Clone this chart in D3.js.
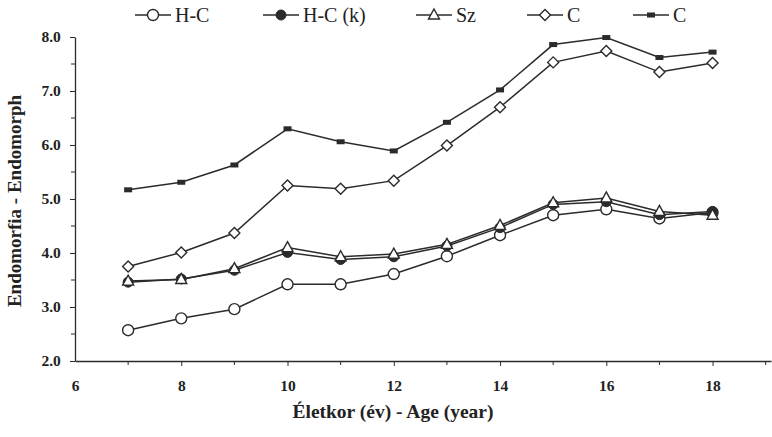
<!DOCTYPE html>
<html><head><meta charset="utf-8">
<script src="https://cdn.jsdelivr.net/npm/d3@7"></script>
<style>body{margin:0;background:#fff}svg{display:block}</style>
</head><body><svg id="c" width="772" height="437"></svg>
<script>
const ages = [7,8,9,10,11,12,13,14,15,16,17,18];
const hc   = [2.57,2.79,2.96,3.42,3.42,3.61,3.94,4.33,4.70,4.81,4.64,4.75];
const hck  = [3.46,3.52,3.68,4.01,3.88,3.93,4.13,4.47,4.90,4.95,4.71,4.77];
const sz   = [3.48,3.51,3.71,4.10,3.93,3.98,4.16,4.51,4.93,5.02,4.77,4.70];
const cDia = [3.75,4.01,4.37,5.25,5.19,5.34,5.99,6.70,7.53,7.74,7.35,7.52];
const cSq  = [5.17,5.31,5.63,6.30,6.06,5.89,6.42,7.02,7.86,7.99,7.62,7.72];
const xTicks = [6,8,10,12,14,16,18];
const yTicks = [2,3,4,5,6,7,8];
const seriesNames = ["H-C","H-C (k)","Sz","C","C"];
const seriesVals = [hc,hck,sz,cDia,cSq];
const markers = ["circleOpen","circleFilled","triangle","diamond","square"];

const svg = d3.select("#c");
const col = "#2b2b2b";
const x = d3.scaleLinear().domain([6,19.1]).range([75,771]);
const y = d3.scaleLinear().domain([2,8]).range([361,37]);

// axes
const xAxis = d3.axisBottom(x).tickValues(xTicks).tickFormat(d3.format("d")).tickSize(5).tickSizeOuter(0);
const gx = svg.append("g").attr("transform","translate(0,361)").call(xAxis);
gx.selectAll(".tick").filter(d=>d===6).select("line").remove();
svg.append("g").attr("transform","translate(0,361)")
  .selectAll("line").data([7,9,11,13,15,17,19]).join("line")
  .attr("x1",d=>x(d)).attr("x2",d=>x(d)).attr("y1",0).attr("y2",4).attr("stroke",col);
const yAxis = d3.axisLeft(y).tickValues(yTicks).tickFormat(d3.format(".1f")).tickSize(5).tickSizeOuter(0);
const gy = svg.append("g").attr("transform","translate(75,0)").call(yAxis);
svg.append("g").attr("transform","translate(75,0)")
  .selectAll("line").data([2.5,3.5,4.5,5.5,6.5,7.5]).join("line")
  .attr("x1",-4).attr("x2",0).attr("y1",d=>y(d)).attr("y2",d=>y(d)).attr("stroke",col);
[gx,gy].forEach(g=>{
  g.select(".domain").attr("stroke",col).attr("stroke-width",1.3);
  g.selectAll(".tick line").attr("stroke",col);
  g.selectAll("text").attr("font-family","Liberation Serif").attr("font-size",15.5)
    .attr("font-weight","bold").attr("fill","#222");
});
gx.selectAll("text").attr("dy","1.45em");
gy.selectAll("text").attr("dx","-0.4em");

// axis titles
svg.append("text").attr("x",393).attr("y",418).attr("text-anchor","middle")
  .attr("font-family","Liberation Serif").attr("font-weight","bold").attr("font-size",19.5)
  .attr("fill","#222").text("Életkor (év) - Age (year)");
svg.append("text").attr("transform","translate(21,201) rotate(-90)").attr("text-anchor","middle")
  .attr("font-family","Liberation Serif").attr("font-weight","bold").attr("font-size",19)
  .attr("fill","#222").text("Endomorfia - Endomorph");

function drawMarker(g, type, cx, cy){
  if(type==="circleOpen") g.append("circle").attr("cx",cx).attr("cy",cy).attr("r",5.5).attr("fill","#fff").attr("stroke",col).attr("stroke-width",1.4);
  else if(type==="circleFilled") g.append("circle").attr("cx",cx).attr("cy",cy).attr("r",5).attr("fill",col).attr("stroke",col);
  else if(type==="triangle") g.append("path").attr("d",`M${cx},${cy-6}L${cx+5.5},${cy+4}L${cx-5.5},${cy+4}Z`).attr("fill","#fff").attr("stroke",col).attr("stroke-width",1.4);
  else if(type==="diamond") g.append("path").attr("d",`M${cx},${cy-5.5}L${cx+5.5},${cy}L${cx},${cy+5.5}L${cx-5.5},${cy}Z`).attr("fill","#fff").attr("stroke",col).attr("stroke-width",1.4);
  else if(type==="square") g.append("rect").attr("x",cx-4).attr("y",cy-2.5).attr("width",8).attr("height",5).attr("fill",col);
}

const line = d3.line().x(d=>x(d[0])).y(d=>y(d[1]));
seriesVals.forEach((vals,i)=>{
  const pts = ages.map((a,j)=>[a,vals[j]]);
  const g = svg.append("g");
  g.append("path").datum(pts).attr("d",line).attr("fill","none").attr("stroke",col).attr("stroke-width",1.5);
  pts.forEach(p=>drawMarker(g,markers[i],x(p[0]),y(p[1])));
});

// legend
const legendX = [135,263,416,527,633];
seriesNames.forEach((n,i)=>{
  const g = svg.append("g");
  const x0 = legendX[i], ly = 15;
  g.append("line").attr("x1",x0).attr("x2",x0+36).attr("y1",ly).attr("y2",ly).attr("stroke",col).attr("stroke-width",1.5);
  drawMarker(g,markers[i],x0+18,ly);
  g.append("text").attr("x",x0+40).attr("y",ly+6.5).attr("font-family","Liberation Serif")
    .attr("font-size",20).attr("fill","#222").text(n);
});
</script></body></html>
